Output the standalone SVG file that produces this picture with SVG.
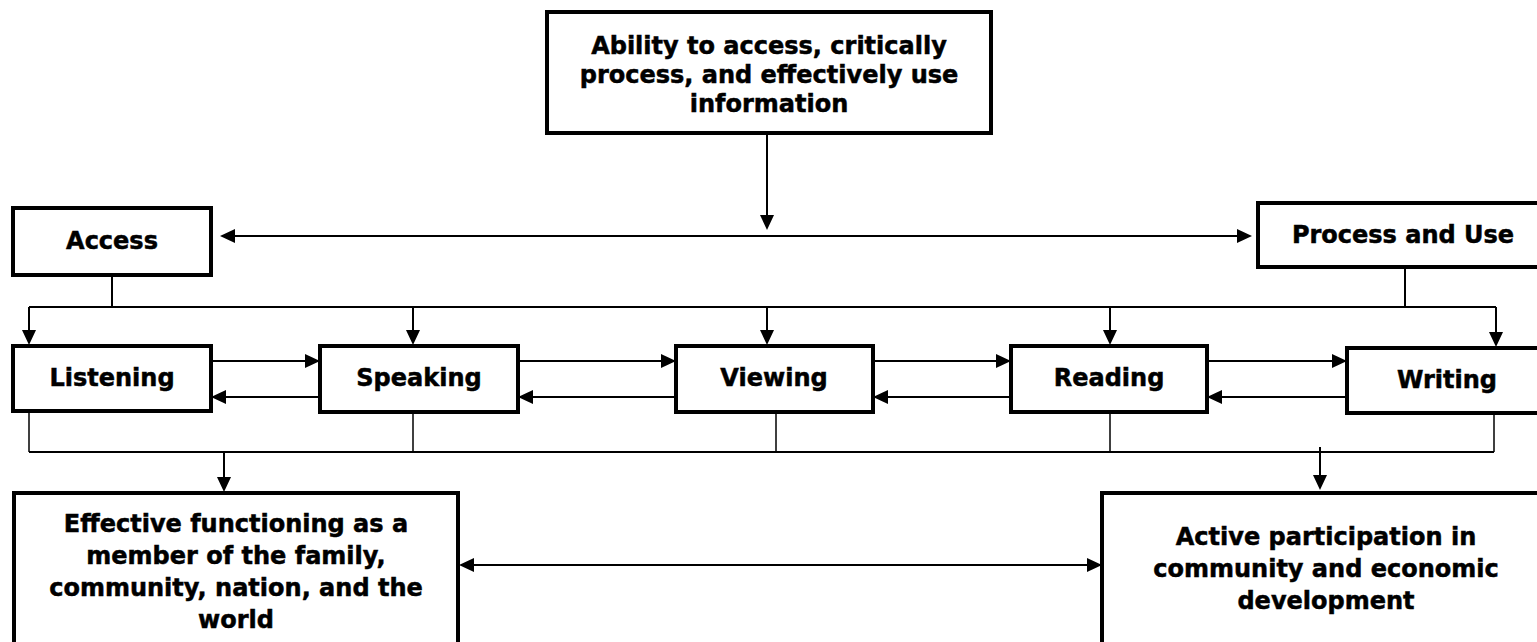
<svg xmlns="http://www.w3.org/2000/svg" width="1537" height="642" viewBox="0 0 1537 642">
<style>
  .box { fill: #ffffff; stroke: #000000; stroke-width: 4; }
  .lbl { font-family: Verdana, "DejaVu Sans", sans-serif; font-weight: bold; font-size: 24px; fill: #000000; stroke: #000000; stroke-width: 0.5; text-anchor: middle; }
  .ln { fill: none; stroke: #000000; stroke-width: 2; }
  .thin { fill: none; stroke: #000000; stroke-width: 1.5; }
  .arr { marker-end: url(#ah); }
  .dbl { marker-start: url(#ah); marker-end: url(#ah); }
</style>
<defs>
  <marker id="ah" viewBox="0 0 15 14" refX="7" refY="7" markerWidth="15" markerHeight="14" markerUnits="userSpaceOnUse" orient="auto-start-reverse">
    <path d="M0,0 L15,7 L0,14 Z" fill="#000000"/>
  </marker>
</defs>
<rect width="1537" height="642" fill="#ffffff"/>

<g id="connectors">
  <path class="ln arr" d="M767 133 V222"/>
  <path class="ln dbl" d="M228 236 H1244"/>
  <path class="ln" d="M112 275 V307"/>
  <path class="ln" d="M1405 267 V307"/>
  <path class="ln" d="M29 307 H1496"/>
  <path class="ln arr" d="M29 307 V337"/>
  <path class="ln arr" d="M413 307 V337"/>
  <path class="ln arr" d="M767 307 V337"/>
  <path class="ln arr" d="M1110 307 V337"/>
  <path class="ln arr" d="M1496 307 V339"/>
  <path class="ln arr" d="M211 361 H312"/>
  <path class="ln arr" d="M518 361 H668"/>
  <path class="ln arr" d="M873 361 H1003"/>
  <path class="ln arr" d="M1207 361 H1339"/>
  <path class="ln arr" d="M320 397 H219"/>
  <path class="ln arr" d="M676 397 H526"/>
  <path class="ln arr" d="M1011 397 H881"/>
  <path class="ln arr" d="M1347 397 H1215"/>
  <path class="thin" d="M29 411 V452"/>
  <path class="thin" d="M413 412 V452"/>
  <path class="thin" d="M776 412 V452"/>
  <path class="thin" d="M1110 412 V452"/>
  <path class="thin" d="M1494 413 V452"/>
  <path class="ln" d="M29 452 H1494"/>
  <path class="ln arr" d="M224 452 V484"/>
  <path class="ln arr" d="M1320 447 V482"/>
  <path class="ln dbl" d="M467 565 H1094"/>
</g>

<g id="ability">
  <rect class="box" x="547" y="12" width="444" height="121"/>
  <text class="lbl" x="769" y="54">Ability to access, critically</text>
  <text class="lbl" x="769" y="83">process, and effectively use</text>
  <text class="lbl" x="769" y="112">information</text>
</g>

<g id="access">
  <rect class="box" x="13" y="208" width="198" height="67"/>
  <text class="lbl" x="112" y="249">Access</text>
</g>

<g id="process-use">
  <rect class="box" x="1258" y="203" width="292" height="64"/>
  <text class="lbl" x="1403" y="243">Process and Use</text>
</g>

<g id="listening">
  <rect class="box" x="13" y="346" width="198" height="65"/>
  <text class="lbl" x="112" y="386">Listening</text>
</g>

<g id="speaking">
  <rect class="box" x="320" y="346" width="198" height="66"/>
  <text class="lbl" x="419" y="386">Speaking</text>
</g>

<g id="viewing">
  <rect class="box" x="676" y="346" width="197" height="66"/>
  <text class="lbl" x="774" y="386">Viewing</text>
</g>

<g id="reading">
  <rect class="box" x="1011" y="346" width="196" height="66"/>
  <text class="lbl" x="1109" y="386">Reading</text>
</g>

<g id="writing">
  <rect class="box" x="1347" y="348" width="200" height="65"/>
  <text class="lbl" x="1447" y="388">Writing</text>
</g>

<g id="effective-functioning">
  <rect class="box" x="14" y="493" width="444" height="170"/>
  <text class="lbl" x="236" y="532">Effective functioning as a</text>
  <text class="lbl" x="236" y="564">member of the family,</text>
  <text class="lbl" x="236" y="596">community, nation, and the</text>
  <text class="lbl" x="236" y="628">world</text>
</g>

<g id="active-participation">
  <rect class="box" x="1102" y="493" width="448" height="170"/>
  <text class="lbl" x="1326" y="545">Active participation in</text>
  <text class="lbl" x="1326" y="577">community and economic</text>
  <text class="lbl" x="1326" y="609">development</text>
</g>
</svg>
